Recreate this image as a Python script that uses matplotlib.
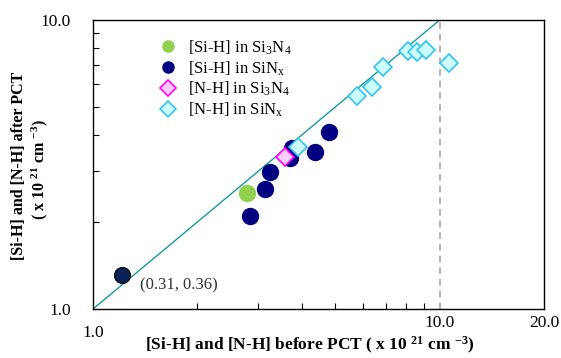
import matplotlib
matplotlib.use("Agg")
import matplotlib.pyplot as plt
from matplotlib.ticker import FixedLocator, NullFormatter
import matplotlib.transforms as mtransforms

plt.rcParams['font.family'] = ['Liberation Serif', 'DejaVu Serif']
plt.rcParams['mathtext.default'] = 'regular'

# concentrations (x 10^21 cm^-3): before PCT vs after PCT
sih_si3n4_before = [2.78]
sih_si3n4_after = [2.51]

sih_sinx_before = [2.84, 3.13, 3.23, 3.74, 3.70, 4.36, 4.80]
sih_sinx_after = [2.10, 2.61, 2.98, 3.60, 3.33, 3.50, 4.11]

nh_si3n4_before = [3.58]
nh_si3n4_after = [3.37]

nh_sinx_before = [3.91, 5.79, 6.39, 6.88, 8.09, 8.62, 9.13, 10.64]
nh_sinx_after = [3.64, 5.47, 5.85, 6.86, 7.83, 7.73, 7.87, 7.08]

# separate reference sample with its own annotation
ref_before = [1.21]
ref_after = [1.31]
ref_label = "(0.31, 0.36)"

fig = plt.figure(figsize=(5.61, 3.58), dpi=100)
ax = fig.add_axes([0.1658, 0.1369, 0.9697 - 0.1658, 0.9441 - 0.1369])

ax.set_xscale('log')
ax.set_yscale('log')
ax.set_xlim(1.0, 20.0)
ax.set_ylim(1.0, 10.0)

# y = x guide and the 10.0 marker line
ax.plot([1.0, 10.0], [1.0, 10.0], color='#1a9a9a', lw=1.0, zorder=2)
ax.axvline(10.0, color='#a6a6a6', lw=1.2, ls=(0, (4, 3)), zorder=1)

ax.plot(ref_before, ref_after, 'o', ms=11.5, mfc='#0b2158', mec='black', mew=0.8, zorder=3)
ax.plot(sih_si3n4_before, sih_si3n4_after, 'o', ms=11.5, mfc='#92d050', mec='#92d050',
        zorder=3, label='[Si-H] in Si$_3$N$_4$')
ax.plot(sih_sinx_before, sih_sinx_after, 'o', ms=11.5, mfc='#000080', mec='#000080',
        zorder=3, label='[Si-H] in SiN$_x$')
ax.plot(nh_si3n4_before, nh_si3n4_after, 'D', ms=9, mfc='#ffccff', mec='#ff00ff', mew=1.2,
        zorder=4, label='[N-H] in Si$_3$N$_4$')
ax.plot(nh_sinx_before, nh_sinx_after, 'D', ms=9, mfc='#ccffff', mec='#33c3f0', mew=1.2,
        zorder=4, label='[N-H] in SiN$_x$')

ax.text(1.37, 1.205, ref_label, fontsize=12, color='#333333', va='center', ha='left')

# ticks: minor 2..9 on both axes, pointing inside
ax.xaxis.set_major_locator(FixedLocator([1.0, 10.0, 20.0]))
ax.xaxis.set_minor_locator(FixedLocator([2, 3, 4, 5, 6, 7, 8, 9]))
ax.yaxis.set_major_locator(FixedLocator([1.0, 10.0]))
ax.yaxis.set_minor_locator(FixedLocator([2, 3, 4, 5, 6, 7, 8, 9]))
ax.xaxis.set_minor_formatter(NullFormatter())
ax.yaxis.set_minor_formatter(NullFormatter())
ax.set_xticklabels(['', '10.0', '20.0'])
ax.set_yticklabels(['1.0', '10.0'])
ax.tick_params(which='both', direction='in', length=4, width=0.8, top=False, right=False)
ax.tick_params(axis='x', which='major', length=0, pad=4, labelsize=12.5)
ax.tick_params(axis='y', which='major', length=0, pad=16, labelsize=12.5)

# the 1.0 label on x sits a little lower than the others
trans = mtransforms.blended_transform_factory(ax.transData, ax.transAxes)
ax.text(1.0, -0.055, '1.0', transform=trans, ha='center', va='top', fontsize=12.5)

for s in ax.spines.values():
    s.set_linewidth(1.0)
    s.set_color('black')

fig.text(0.5526, 0.034, '[Si-H] and [N-H] before PCT ( x 10 $^{21}$ cm $^{-3}$)',
         ha='center', va='center', fontsize=12.5, fontweight='bold')
fig.text(0.034, 0.536, '[Si-H] and [N-H] after PCT', rotation=90, ha='center', va='center',
         fontsize=11.5, fontweight='bold')
fig.text(0.070, 0.525, '( x 10 $^{21}$ cm $^{-3}$)', rotation=90, ha='center', va='center',
         fontsize=11.5, fontweight='bold')

leg = ax.legend(loc='upper left', bbox_to_anchor=(0.13, 0.96), frameon=False, fontsize=12,
                handletextpad=0.6, labelspacing=0.15, handlelength=1.2, borderaxespad=0)
for h in leg.legend_handles:
    h.set_markersize(8)

fig.savefig('out.png', dpi=100)
